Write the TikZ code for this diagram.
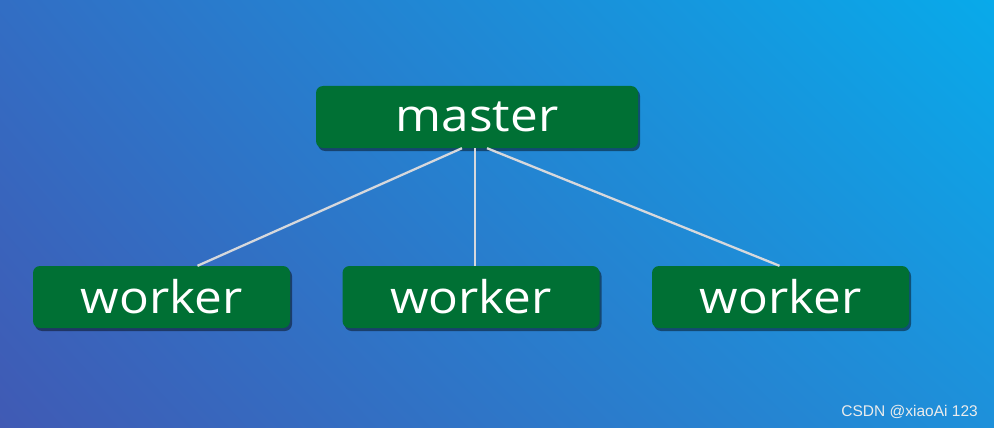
\documentclass[tikz,border=0pt]{standalone}
\usepackage{fontspec}
\setmainfont{Open Sans}[FakeStretch=1.1]
\newfontfamily\wmfont{Liberation Sans}
\usetikzlibrary{shadows,shadings,positioning}
\definecolor{boxgreen}{HTML}{007034}
\definecolor{bgUL}{HTML}{326EC4}
\definecolor{bgUR}{HTML}{08AAEA}
\definecolor{bgLL}{HTML}{405AB4}
\definecolor{bgLR}{HTML}{1E90DA}
\definecolor{linkgray}{HTML}{D6D8DC}

\begin{document}
\begin{tikzpicture}[x=1pt,y=-1pt,% pixel-like coordinates, y going down
        rolebox/.style={fill=boxgreen,rounded corners=7pt,text=white,
          font=\fontsize{45}{45}\selectfont,inner sep=0pt,
          minimum width=257pt,minimum height=62pt,
          drop shadow={shadow xshift=2pt,shadow yshift=-3pt,fill=black,opacity=0.45}},
        link/.style={draw=linkgray,line width=2.3pt}]
% background
\shade[upper left=bgUL,upper right=bgUR,lower left=bgLL,lower right=bgLR]
  (0,0) rectangle (994,428);
\useasboundingbox (0,0) rectangle (994,428);

\node[rolebox,minimum width=322pt] (master) at (477,117) {master};
\node[rolebox] (worker1) at (161.5,297) {worker};
\node[rolebox] (worker2) at (471,297) {worker};
\node[rolebox] (worker3) at (780.5,297) {worker};

\draw[link] ([xshift=-15pt]master.south) -- ([xshift=36pt]worker1.north);
\draw[link] ([xshift=-2pt]master.south) -- ([xshift=4pt]worker2.north);
\draw[link] ([xshift=10pt]master.south) -- ([xshift=-1pt]worker3.north);

% watermark
\node[anchor=east,text=white!85!gray,font=\wmfont\fontsize{15.5}{16}\selectfont,
  inner sep=0pt] (mark) at (978,412) {CSDN @xiaoAi 123};
\end{tikzpicture}
\end{document}
